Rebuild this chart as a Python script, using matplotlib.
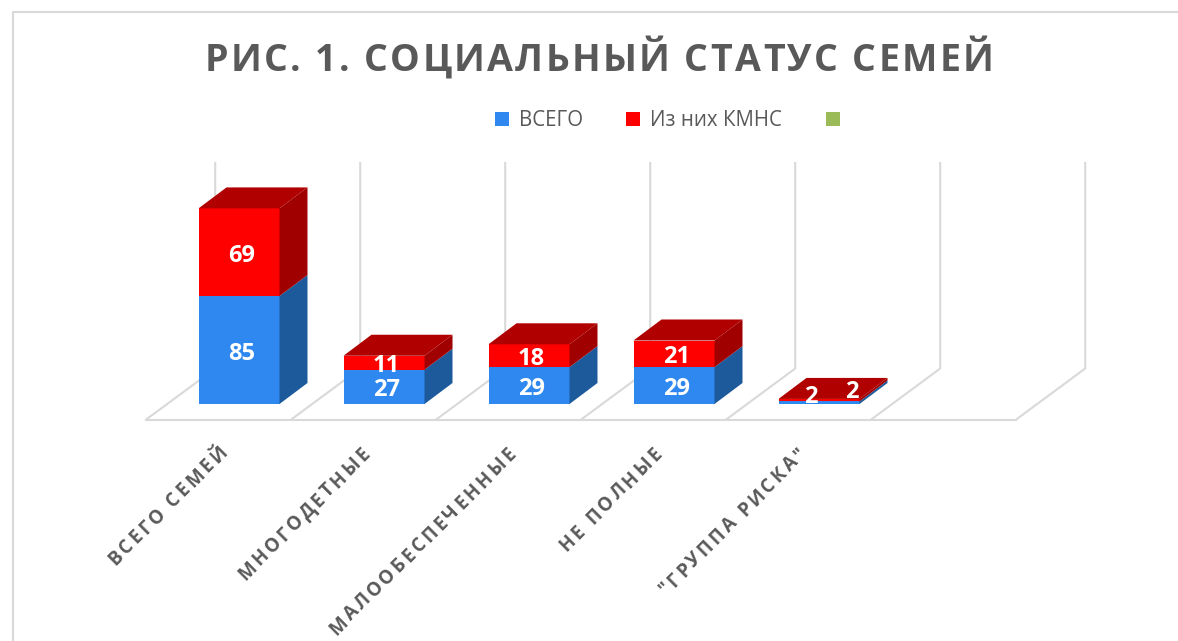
import numpy as np
import matplotlib
matplotlib.use("Agg")
import matplotlib.pyplot as plt
from matplotlib.patches import Polygon, Rectangle
from matplotlib.font_manager import FontProperties
from matplotlib.textpath import text_to_path

plt.rcParams['font.family'] = 'Open Sans'

title = "РИС. 1. СОЦИАЛЬНЫЙ СТАТУС СЕМЕЙ"
categories = ["ВСЕГО СЕМЕЙ", "МНОГОДЕТНЫЕ", "МАЛООБЕСПЕЧЕННЫЕ", "НЕ ПОЛНЫЕ", "\"ГРУППА РИСКА\""]
total = [85, 27, 29, 29, 2]
kmns = [69, 11, 18, 21, 2]
legend_labels = ["ВСЕГО", "Из них КМНС", ""]

W, H = 1178, 641
STEP = 145.0     # px per category
UNIT = 1.27      # px per value unit
X0, Y0 = 239.0, 404.0

fig = plt.figure(figsize=(W / 100, H / 100), dpi=100)
ax = fig.add_axes([0, 0, 1, 1])
ax.set_xlim(-X0 / STEP, (W - X0) / STEP)
ax.set_ylim((Y0 - H) / UNIT, Y0 / UNIT)
ax.axis('off')

def px(x, y):
    return x / W, 1 - y / H

grid = '#d9d9d9'
# outer chart border
fig.add_artist(plt.Line2D([13 / W, 13 / W, 1], [0, 1 - 12 / H, 1 - 12 / H], color=grid, lw=1.5))

# floor and back wall
bar_w = 81 / STEP
dx, dy = 28 / STEP, 21 / UNIT
floor_dx, floor_dy = 69 / STEP, 51 / UNIT
front_y = -15.5 / UNIT
wall_top = (Y0 - 163) / UNIT
edges = np.arange(len(categories) + 2) - 0.64
ax.plot([edges[0], edges[-1]], [front_y, front_y], color=grid, lw=1.5, zorder=1)
for e in edges:
    ax.plot([e, e + floor_dx, e + floor_dx], [front_y, front_y + floor_dy, wall_top],
            color=grid, lw=1.5, zorder=1)

x = np.arange(len(categories))
colors = [('#2e88f0', '#1c5a9c'), ('#ff0000', '#a00000')]
top_color = '#b00000'
bottom = np.zeros(len(categories))
for vals, (front, side) in zip([total, kmns], colors):
    vals = np.array(vals, dtype=float)
    ax.bar(x, vals, bottom=bottom, width=bar_w, color=front, zorder=3)
    for xi, b, v in zip(x, bottom, vals):
        r = xi + bar_w / 2
        ax.add_patch(Polygon([(r, b), (r + dx, b + dy), (r + dx, b + v + dy), (r, b + v)],
                             color=side, lw=0, zorder=3))
    bottom = bottom + vals
for xi, t in zip(x, bottom):
    l, r = xi - bar_w / 2, xi + bar_w / 2
    ax.add_patch(Polygon([(l, t), (r, t), (r + dx, t + dy), (l + dx, t + dy)],
                         color=top_color, lw=0, zorder=3))

# value labels, centred on their segment
lab_dx = 2.5 / STEP
lab_dy = -3.5 / UNIT
lab_kw = dict(color='white', fontweight='bold', fontsize=17, ha='center', va='center', zorder=5)
for i in range(len(categories)):
    if i == len(categories) - 1:
        # the thin last column: labels sit on top of the bar
        ax.text(i - 8 / STEP, total[i] + 4 / UNIT, str(total[i]), **lab_kw)
        ax.text(i + 33 / STEP, total[i] + 9 / UNIT, str(kmns[i]), **lab_kw)
        continue
    ax.text(i + lab_dx, total[i] / 2 + lab_dy, str(total[i]), **lab_kw)
    ax.text(i + lab_dx, total[i] + kmns[i] / 2 + lab_dy, str(kmns[i]), **lab_kw)

def spaced_text(s, x_px, y_px, size, spacing, angle=0, weight='bold', color='#595959', anchor='left'):
    # matplotlib has no letter spacing, so place each glyph on its own
    prop = FontProperties(family='Open Sans', weight=weight, size=size)
    scale = 100 / 72
    advances = [text_to_path.get_text_width_height_descent(c, prop, False)[0] * scale + spacing for c in s]
    a = np.radians(angle)
    ux, uy = np.cos(a), -np.sin(a)
    offset = -sum(advances) + spacing if anchor == 'right' else 0
    for c, adv in zip(s, advances):
        fx, fy = px(x_px + offset * ux, y_px + offset * uy)
        fig.text(fx, fy, c, fontproperties=prop, color=color, rotation=angle,
                 rotation_mode='anchor', ha='left', va='baseline')
        offset += adv

spaced_text(title, 204.5, 71, 27, 2.33)

# category labels: anchored at their upper right end
label_ends = [(228, 453), (371, 455), (517, 455), (663, 455), (807, 455)]
for name, (ex, ey) in zip(categories, label_ends):
    spaced_text(name, ex, ey, 13.5, 2.8, angle=45, anchor='right')

# legend
legend_colors = ['#2e88f0', '#ff0000', '#9bbb59']
for lx, c, lab in zip([495, 626, 826], legend_colors, legend_labels):
    fx, fy = px(lx, 126)
    fig.add_artist(Rectangle((fx, fy), 14 / W, 14 / H, transform=fig.transFigure, color=c, lw=0))
    if lab:
        tx, ty = px(lx + 24, 120)
        fig.text(tx, ty, lab, color='#595959', fontsize=14.8, ha='left', va='center')

fig.savefig('out.png', dpi=100)
